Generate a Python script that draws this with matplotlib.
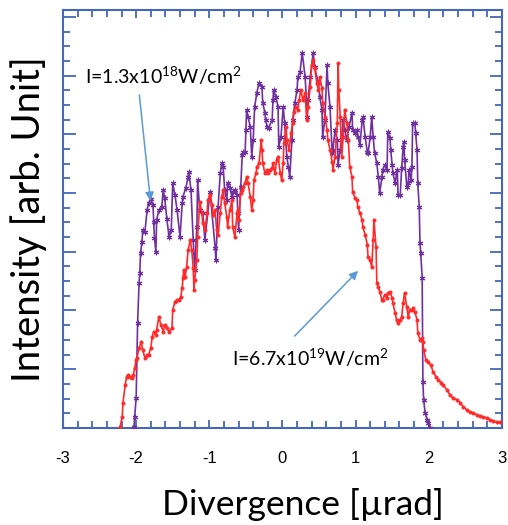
import matplotlib
matplotlib.use("Agg")
import matplotlib.pyplot as plt
from matplotlib.ticker import MultipleLocator

plt.rcParams["axes.unicode_minus"] = False
plt.rcParams["mathtext.fontset"] = "custom"
plt.rcParams["mathtext.rm"] = "Lato"
plt.rcParams["mathtext.it"] = "Lato:italic"

# purple: I = 1.3e18 W/cm2
low_x = [-2.03, -2.02, -2.00, -1.98, -1.96, -1.95, -1.94, -1.92, -1.91, -1.88, -1.85, -1.83, -1.80,
         -1.77, -1.76, -1.75, -1.73, -1.72, -1.69, -1.65, -1.63, -1.61, -1.58, -1.55, -1.52, -1.50,
         -1.47, -1.44, -1.40, -1.37, -1.36, -1.32, -1.29, -1.28, -1.25, -1.22, -1.20, -1.17, -1.16,
         -1.13, -1.09, -1.06, -0.99, -0.92, -0.91, -0.88, -0.85, -0.83, -0.81, -0.79, -0.76, -0.75,
         -0.72, -0.69, -0.68, -0.65, -0.62, -0.61, -0.60, -0.57, -0.55, -0.54, -0.51, -0.50, -0.49,
         -0.47, -0.44, -0.42, -0.40, -0.38, -0.35, -0.32, -0.28, -0.27, -0.24, -0.23, -0.21, -0.19,
         -0.14, -0.13, -0.12, -0.09, -0.06, -0.05, -0.02, 0.01, 0.03, 0.06, 0.08, 0.10, 0.13, 0.14,
         0.17, 0.20, 0.21, 0.24, 0.27, 0.31, 0.34, 0.35, 0.38, 0.42, 0.44, 0.49, 0.51, 0.54, 0.55,
         0.58, 0.61, 0.62, 0.65, 0.68, 0.69, 0.72, 0.75, 0.76, 0.79, 0.81, 0.83, 0.85, 0.88, 0.91,
         0.95, 0.96, 0.99, 1.02, 1.03, 1.06, 1.09, 1.10, 1.13, 1.16, 1.17, 1.20, 1.22, 1.24, 1.26,
         1.29, 1.31, 1.33, 1.36, 1.37, 1.40, 1.43, 1.44, 1.47, 1.48, 1.50, 1.51, 1.54, 1.57, 1.58,
         1.61, 1.63, 1.65, 1.66, 1.67, 1.70, 1.72, 1.73, 1.76, 1.77, 1.78, 1.81, 1.82, 1.84, 1.85,
         1.87, 1.88, 1.89, 1.91, 1.92, 1.93, 1.95, 1.98, 1.99, 2.02]
low_y = [0.02, 0.19, 0.51, 1.79, 2.47, 2.64, 2.98, 3.17, 3.37, 3.34, 3.71, 3.83, 3.90,
         3.80, 3.51, 3.24, 3.00, 3.54, 3.71, 3.76, 4.05, 3.92, 3.56, 3.25, 3.37, 4.17,
         3.97, 3.71, 3.25, 3.83, 3.94, 4.09, 4.28, 4.36, 4.05, 3.20, 2.69, 3.42, 4.22,
         3.71, 3.66, 3.20, 4.02, 3.07, 2.86, 3.76, 4.34, 4.51, 4.45, 4.05, 3.88, 4.17,
         4.09, 3.94, 4.02, 4.05, 3.97, 3.66, 3.37, 4.11, 4.65, 4.70, 4.70, 5.08, 5.42,
         5.30, 5.13, 4.62, 4.91, 5.47, 5.71, 5.88, 5.81, 5.54, 5.37, 5.25, 5.13, 5.11,
         5.25, 5.59, 5.76, 5.64, 5.47, 4.79, 4.96, 5.47, 5.20, 4.62, 4.45, 4.28, 4.91, 5.25,
         5.54, 5.76, 5.98, 6.06, 6.39, 5.98, 5.30, 5.59, 5.98, 6.39, 6.15, 5.88, 5.64, 5.42, 4.96,
         5.25, 6.18, 5.88, 5.47, 4.68, 4.74, 5.08, 4.91, 4.48, 4.74, 4.96, 5.25, 5.08, 4.91, 5.13,
         5.37, 5.08, 5.03, 5.08, 4.96, 4.82, 5.25, 5.30, 4.96, 4.70, 4.68, 4.96, 5.30, 4.96, 4.68,
         4.51, 4.28, 4.00, 4.28, 4.40, 4.48, 4.40, 5.04, 4.94, 4.74, 4.48, 4.34, 4.17, 4.40, 3.97,
         3.97, 4.43, 4.79, 4.87, 4.57, 4.11, 4.17, 4.40, 4.22, 4.45, 5.20, 5.20, 5.03, 4.74, 4.17,
         3.76, 3.15, 2.98, 2.56, 0.78, 0.48, 0.26, 0.14, 0.09, 0.00]

# red: I = 6.7e19 W/cm2
high_x = [-2.22, -2.19, -2.18, -2.15, -2.13, -2.11, -2.08, -2.06, -2.04, -2.02, -2.00, -1.99, -1.96,
          -1.93, -1.91, -1.88, -1.85, -1.83, -1.80, -1.78, -1.76, -1.73, -1.72, -1.69, -1.66, -1.63,
          -1.61, -1.58, -1.55, -1.51, -1.50, -1.47, -1.44, -1.42, -1.39, -1.37, -1.36, -1.35, -1.33,
          -1.31, -1.29, -1.26, -1.24, -1.22, -1.21, -1.20, -1.17, -1.16, -1.13, -1.10, -1.09, -1.06,
          -1.03, -1.02, -0.99, -0.96, -0.95, -0.92, -0.90, -0.88, -0.85, -0.83, -0.81, -0.79, -0.76,
          -0.75, -0.72, -0.69, -0.68, -0.65, -0.62, -0.61, -0.60, -0.57, -0.55, -0.54, -0.51, -0.49,
          -0.47, -0.44, -0.42, -0.40, -0.39, -0.36, -0.35, -0.32, -0.29, -0.28, -0.27, -0.24, -0.21,
          -0.20, -0.17, -0.14, -0.13, -0.10, -0.08, -0.06, -0.03, -0.01, 0.01, 0.02, 0.05, 0.06,
          0.09, 0.12, 0.14, 0.16, 0.18, 0.21, 0.23, 0.25, 0.28, 0.31, 0.33, 0.35, 0.38, 0.40, 0.42,
          0.44, 0.47, 0.49, 0.51, 0.54, 0.55, 0.58, 0.61, 0.62, 0.65, 0.68, 0.69, 0.72, 0.75, 0.76,
          0.77, 0.79, 0.81, 0.83, 0.85, 0.88, 0.90, 0.92, 0.95, 0.96, 0.99, 1.02, 1.03, 1.06, 1.09,
          1.10, 1.13, 1.16, 1.17, 1.20, 1.22, 1.24, 1.25, 1.28, 1.29, 1.31, 1.33, 1.36, 1.37, 1.40,
          1.43, 1.44, 1.47, 1.50, 1.51, 1.54, 1.56, 1.58, 1.61, 1.63, 1.65, 1.67, 1.70, 1.72, 1.74,
          1.77, 1.78, 1.81, 1.84, 1.85, 1.88, 1.91, 1.92, 1.93, 1.96, 1.99, 2.03, 2.06, 2.10, 2.13,
          2.17, 2.19, 2.25, 2.29, 2.33, 2.39, 2.43, 2.47, 2.52, 2.56, 2.60, 2.66, 2.70, 2.74, 2.80,
          2.84, 2.88, 2.93, 2.97]
high_y = [0.02, 0.19, 0.43, 0.73, 0.87, 0.90, 0.87, 0.85, 0.90, 1.02, 1.16, 1.19, 1.36,
          1.47, 1.33, 1.19, 1.24, 1.24, 1.36, 1.55, 1.64, 1.58, 1.67, 1.89, 1.75, 1.64,
          1.75, 1.70, 1.64, 1.70, 2.01, 2.15, 2.18, 2.18, 2.23, 2.39, 2.56, 2.69, 2.57,
          2.74, 3.03, 3.20, 3.03, 2.73, 2.35, 2.52, 2.86, 3.25, 3.85, 3.66, 3.49, 3.37,
          3.66, 3.88, 3.97, 3.80, 3.63, 3.71, 3.37, 3.29, 3.66, 3.94, 4.05, 3.83, 3.59,
          3.42, 3.71, 3.88, 3.42, 3.25, 3.66, 3.71, 3.54, 4.00, 4.05, 4.11, 4.17, 4.28,
          4.17, 3.94, 3.71, 3.88, 4.22, 4.34, 4.45, 4.51, 4.91, 4.74, 4.51, 4.34, 4.40,
          4.34, 4.40, 4.43, 4.51, 4.34, 4.57, 4.62, 4.34, 4.22, 4.51, 4.86, 5.13, 4.91,
          4.74, 5.03, 5.20, 5.38, 5.47, 5.42, 5.59, 5.76, 5.59, 5.71, 5.25, 5.47, 5.81, 6.18, 6.27,
          6.13, 5.88, 5.76, 5.98, 5.79, 5.54, 5.30, 5.08, 4.91, 4.74, 4.53, 4.40, 4.62, 5.20, 6.22,
          5.76, 5.30, 4.62, 4.96, 5.42, 5.20, 4.91, 4.45, 4.28, 4.02, 3.92, 3.88, 3.76, 3.66, 3.54,
          3.42, 3.29, 3.12, 2.91, 2.86, 2.74, 3.20, 3.54, 3.08, 2.47, 2.40, 2.32, 2.18, 2.18, 2.27,
          2.21, 2.30, 2.32, 2.21, 2.13, 1.96, 1.84, 1.79, 1.84, 1.89, 2.13, 2.30, 2.06, 1.89, 2.01,
          2.01, 2.04, 1.98, 1.84, 1.62, 1.50, 1.53, 1.47, 1.33, 1.16, 1.12, 1.07, 0.95, 0.87, 0.82,
          0.77, 0.73, 0.65, 0.56, 0.51, 0.48, 0.43, 0.36, 0.31, 0.27, 0.26, 0.22, 0.20, 0.19, 0.17,
          0.14, 0.12, 0.10, 0.10]

PURPLE = "#7030a0"
RED = "#ff2a2a"
SPINE = "#4466bb"
ARROW = "#5b9bd5"

fig = plt.figure(figsize=(5.08, 5.25), dpi=100)
ax = fig.add_axes([0.124, 0.185, 0.864, 0.796])

ax.plot(low_x, low_y, color=PURPLE, lw=1.2, marker=(6, 2, 0), ms=4, mew=0.8, zorder=3)
ax.plot(high_x, high_y, color=RED, lw=1.2, marker="o", ms=2.3, mew=0.6, zorder=4)

ax.set_xlim(-3, 3)
ax.set_ylim(0, 7.12)
ax.xaxis.set_major_locator(MultipleLocator(1))
ax.xaxis.set_minor_locator(MultipleLocator(0.2))
ax.yaxis.set_major_locator(MultipleLocator(1))
ax.yaxis.set_minor_locator(MultipleLocator(0.25))
ax.tick_params(which="both", direction="in", top=True, right=True, color=SPINE, width=1.3)
ax.tick_params(axis="x", which="major", length=6, labelsize=12, pad=17)
ax.tick_params(axis="x", which="minor", length=5)
ax.tick_params(axis="y", which="major", length=9, labelleft=False)
ax.tick_params(axis="y", which="minor", length=5)
for lab in ax.get_xticklabels():
    lab.set_fontfamily("Liberation Sans")
for s in ax.spines.values():
    s.set_color(SPINE)
    s.set_linewidth(1.5)

ax.set_xlabel("Divergence [\u00b5rad]", fontsize=25.5, family="Lato")
ax.xaxis.set_label_coords(0.547, -0.143)
ax.set_ylabel("Intensity [arb. Unit]", fontsize=27.5, family="Lato", labelpad=8)

ax.text(-2.70, 6.0, "I=1.3x10$^{18}$W/cm$^{2}$", fontsize=14, family="Lato",
        ha="left", va="center", zorder=6)
ax.annotate("", xy=(-1.80, 3.82), xytext=(-1.96, 5.72),
            arrowprops=dict(arrowstyle="-|>,head_width=0.25,head_length=0.5", color=ARROW, lw=1.1), zorder=6)

ax.text(-0.69, 1.19, "I=6.7x10$^{19}$W/cm$^{2}$", fontsize=14, family="Lato",
        ha="left", va="center", zorder=6)
ax.annotate("", xy=(1.06, 2.71), xytext=(0.14, 1.53),
            arrowprops=dict(arrowstyle="-|>,head_width=0.25,head_length=0.5", color=ARROW, lw=1.1), zorder=6)

fig.savefig("out.png", dpi=100)
